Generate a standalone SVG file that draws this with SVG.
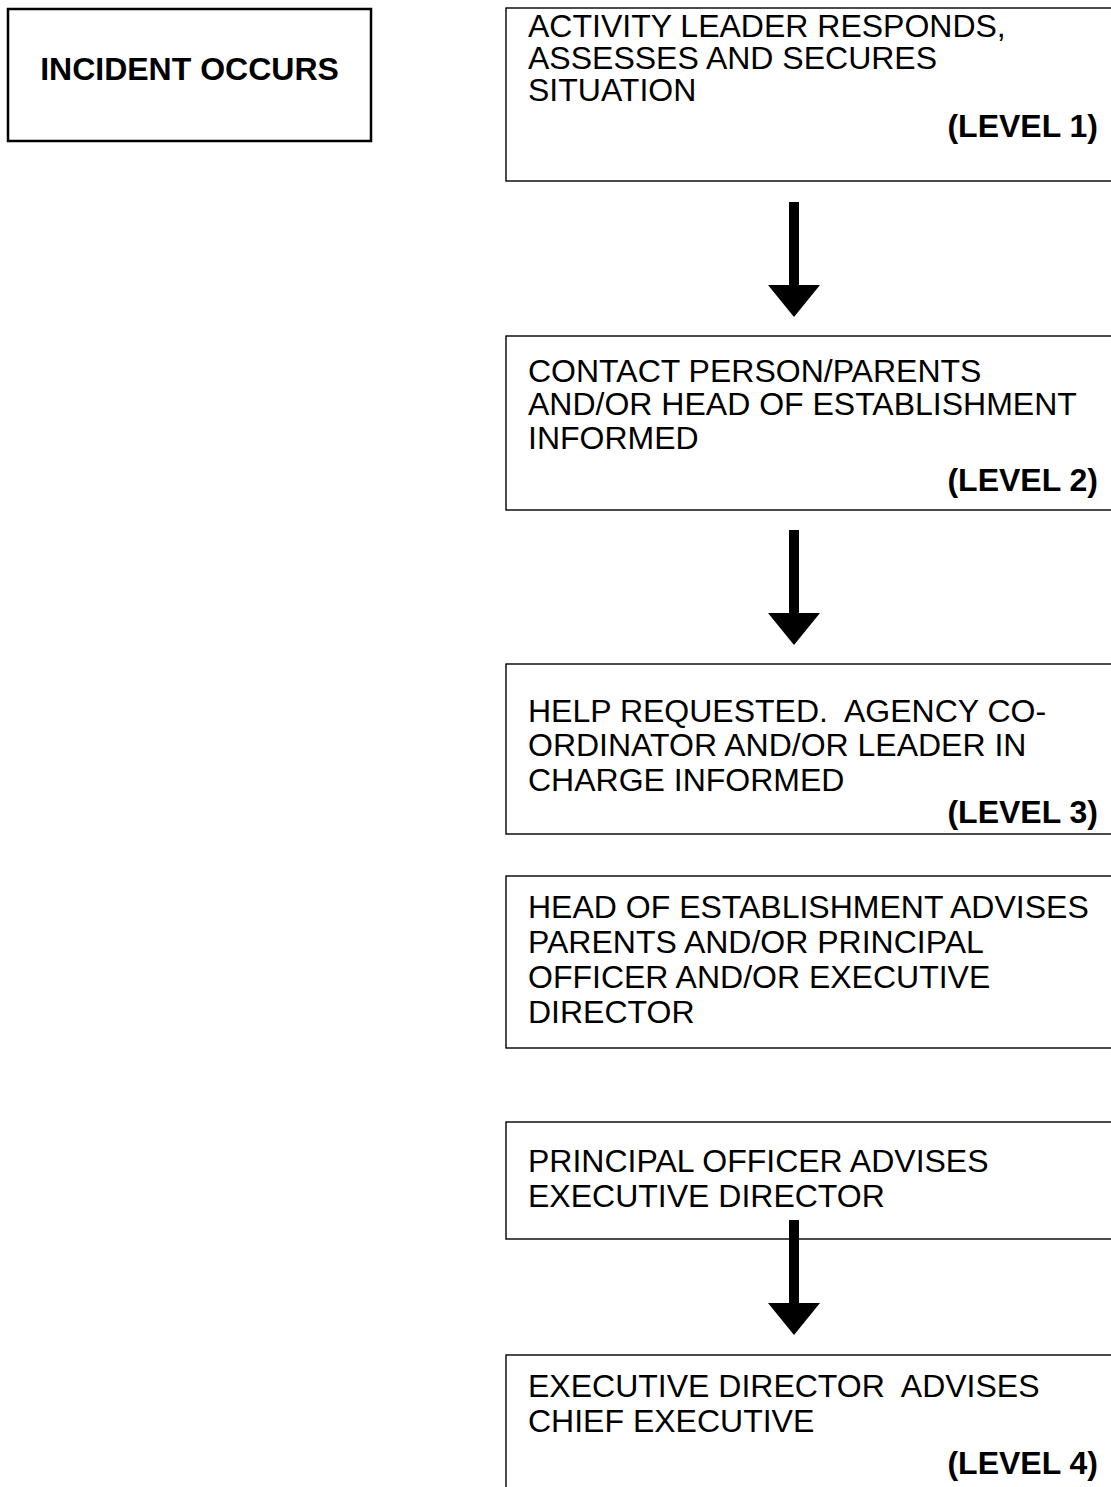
<svg xmlns="http://www.w3.org/2000/svg" width="1111" height="1487" viewBox="0 0 1111 1487">
  <style>
    .box { fill: #ffffff; stroke: #000000; stroke-width: 1.4; }
    .boxA { fill: #ffffff; stroke: #000000; stroke-width: 2.5; }
    .t { font-family: "Liberation Sans", Arial, sans-serif; font-size: 32px; fill: #000000; white-space: pre; }
    .b { font-weight: bold; }
    .arrow { fill: #000000; }
  </style>
  <defs>
    <path id="arr" d="M -5 0 L 5 0 L 5 83 L 26 83 L 0 115 L -26 83 L -5 83 Z"/>
  </defs>
  <rect width="1111" height="1487" fill="#ffffff"/>

  <g id="node-incident">
    <rect class="boxA" x="8" y="9" width="363" height="132"/>
    <text class="t b" x="189.5" y="80" text-anchor="middle">INCIDENT OCCURS</text>
  </g>

  <g id="node-level1">
    <rect class="box" x="506" y="8" width="640" height="173"/>
    <text class="t" x="528" y="37">ACTIVITY LEADER RESPONDS,</text>
    <text class="t" x="528" y="69">ASSESSES AND SECURES</text>
    <text class="t" x="528" y="101">SITUATION</text>
    <text class="t b" x="1098" y="137" text-anchor="end">(LEVEL 1)</text>
  </g>

  <g id="node-level2">
    <rect class="box" x="506" y="336" width="640" height="174"/>
    <text class="t" x="528" y="382">CONTACT PERSON/PARENTS</text>
    <text class="t" x="528" y="415">AND/OR HEAD OF ESTABLISHMENT</text>
    <text class="t" x="528" y="449">INFORMED</text>
    <text class="t b" x="1098" y="491" text-anchor="end">(LEVEL 2)</text>
  </g>

  <g id="node-level3">
    <rect class="box" x="506" y="664" width="640" height="170"/>
    <text class="t" x="528" y="722" xml:space="preserve">HELP REQUESTED.  AGENCY CO-</text>
    <text class="t" x="528" y="756">ORDINATOR AND/OR LEADER IN</text>
    <text class="t" x="528" y="791">CHARGE INFORMED</text>
    <text class="t b" x="1098" y="823" text-anchor="end">(LEVEL 3)</text>
  </g>

  <g id="node-head">
    <rect class="box" x="506" y="876" width="640" height="172"/>
    <text class="t" x="528" y="918">HEAD OF ESTABLISHMENT ADVISES</text>
    <text class="t" x="528" y="953">PARENTS AND/OR PRINCIPAL</text>
    <text class="t" x="528" y="988">OFFICER AND/OR EXECUTIVE</text>
    <text class="t" x="528" y="1023">DIRECTOR</text>
  </g>

  <g id="node-principal">
    <rect class="box" x="506" y="1122" width="640" height="117"/>
    <text class="t" x="528" y="1172">PRINCIPAL OFFICER ADVISES</text>
    <text class="t" x="528" y="1207">EXECUTIVE DIRECTOR</text>
  </g>

  <g id="node-level4">
    <rect class="box" x="506" y="1355" width="640" height="200"/>
    <text class="t" x="528" y="1397" xml:space="preserve">EXECUTIVE DIRECTOR  ADVISES</text>
    <text class="t" x="528" y="1432">CHIEF EXECUTIVE</text>
    <text class="t b" x="1098" y="1474" text-anchor="end">(LEVEL 4)</text>
  </g>

  <g id="connectors">
    <use href="#arr" class="arrow" x="794" y="202"/>
    <use href="#arr" class="arrow" x="794" y="530"/>
    <use href="#arr" class="arrow" x="794" y="1220"/>
  </g>
</svg>
